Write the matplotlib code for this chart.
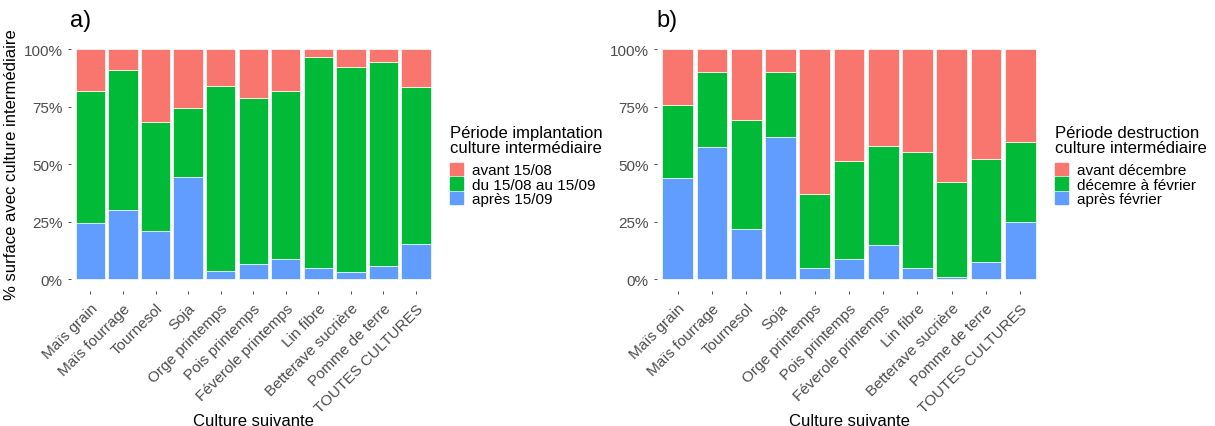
import numpy as np
import matplotlib
matplotlib.use("Agg")
import matplotlib.pyplot as plt
from matplotlib.ticker import PercentFormatter

plt.rcParams['font.family'] = ['Liberation Sans', 'DejaVu Sans']

# --- DATA ---
cultures = ["Maïs grain", "Maïs fourrage", "Tournesol", "Soja", "Orge printemps",
            "Pois printemps", "Féverole printemps", "Lin fibre", "Betterave sucrière",
            "Pomme de terre", "TOUTES CULTURES"]

# a) implantation period (% of surface)
impl_apres = [24.3, 29.9, 21.0, 44.2, 3.6, 6.4, 8.7, 4.9, 3.2, 5.7, 15.1]
impl_du = [57.3, 60.8, 47.1, 30.1, 80.2, 72.4, 73.2, 91.6, 89.1, 88.8, 68.5]
impl_avant = [18.4, 9.3, 31.9, 25.7, 16.2, 21.2, 18.1, 3.5, 7.7, 5.5, 16.4]
impl_labels = ["avant 15/08", "du 15/08 au 15/09", "après 15/09"]

# b) destruction period (% of surface)
destr_apres = [44.0, 57.6, 21.9, 61.9, 4.8, 8.9, 14.7, 4.7, 1.0, 7.3, 24.7]
destr_dec = [31.6, 32.5, 47.3, 28.2, 32.0, 42.3, 43.0, 50.4, 41.2, 45.0, 34.9]
destr_avant = [24.4, 9.9, 30.8, 9.9, 63.2, 48.8, 42.3, 44.9, 57.8, 47.7, 40.4]
destr_labels = ["avant décembre", "décemre à février", "après février"]

COL_RED = '#F8766D'
COL_GREEN = '#00BA38'
COL_BLUE = '#619CFF'


def stacked_panel(ax, low, mid, high, letter):
    x = np.arange(1, len(cultures) + 1)
    low = np.array(low)
    mid = np.array(mid)
    high = np.array(high)
    total = low + mid + high
    low, mid, high = low / total * 100, mid / total * 100, high / total * 100
    kw = dict(width=0.9, edgecolor='white', linewidth=0.5)
    ax.bar(x, low, color=COL_BLUE, **kw)
    ax.bar(x, mid, bottom=low, color=COL_GREEN, **kw)
    ax.bar(x, high, bottom=low + mid, color=COL_RED, **kw)
    ax.set_xlim(0.4, len(cultures) + 0.6)
    ax.set_ylim(-5, 105)
    ax.set_yticks([0, 25, 50, 75, 100])
    ax.yaxis.set_major_formatter(PercentFormatter(decimals=0))
    ax.set_xticks(x)
    ax.set_xticklabels(cultures, rotation=45, ha='right', rotation_mode='anchor')
    for s in ax.spines.values():
        s.set_visible(False)
    ax.tick_params(axis='both', colors='#333333', labelcolor='#4D4D4D',
                   labelsize=11, length=2.5, width=0.6)
    ax.tick_params(axis='x', pad=5)
    ax.set_xlabel("Culture suivante", fontsize=12)
    ax.xaxis.set_label_coords(0.5, -0.484)
    ax.text(-0.003, 1.069, letter, transform=ax.transAxes, fontsize=17,
            ha='left', va='center')
    return ax


fig = plt.figure(figsize=(12.15, 4.27), dpi=100)
ax1 = fig.add_axes([0.0583, 0.3173, 0.3002, 0.5925])
ax2 = fig.add_axes([0.5409, 0.3173, 0.3157, 0.5925])

stacked_panel(ax1, impl_apres, impl_du, impl_avant, "a)")
stacked_panel(ax2, destr_apres, destr_dec, destr_avant, "b)")
ax1.set_ylabel("% surface avec culture intermédiaire", fontsize=12)
ax1.yaxis.set_label_coords(-0.142, 0.5)

for labels, title, xpx in [
        (impl_labels, "Période implantation\nculture intermédiaire", 450),
        (destr_labels, "Période destruction\nculture intermédiaire", 1055)]:
    fig.text(xpx / 1215, 1 - 141 / 427, title, fontsize=12, ha='left',
             va='center', linespacing=1.05)
    handles = [plt.Rectangle((0, 0), 1, 1, color=c) for c in (COL_RED, COL_GREEN, COL_BLUE)]
    fig.legend(handles, labels, loc='upper left',
               bbox_to_anchor=(xpx / 1215, 1 - 164 / 427), frameon=False,
               fontsize=11, handlelength=0.85, handleheight=0.85,
               handletextpad=0.6, labelspacing=0.0, borderpad=0,
               borderaxespad=0)

fig.savefig("out.png", dpi=100)
